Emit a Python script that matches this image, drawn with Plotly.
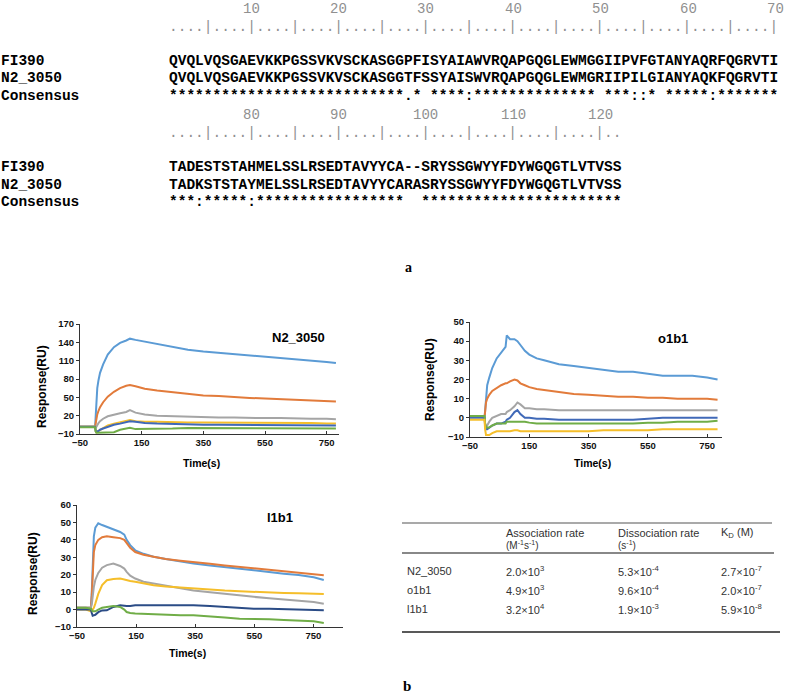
import plotly.graph_objects as go

W, H = 787, 696

def px(x):
    return x / W

def py(y):
    return 1 - y / H

# ---------------- Alignment data ----------------
seq_names = ["FI390", "N2_3050", "Consensus"]
block1_seqs = [
    "QVQLVQSGAEVKKPGSSVKVSCKASGGPFISYAIAWVRQAPGQGLEWMGGIIPVFGTANYAQRFQGRVTI",
    "QVQLVQSGAEVKKPGSSVKVSCKASGGTFSSYAISWVRQAPGQGLEWMGRIIPILGIANYAQKFQGRVTI",
    "***************************.* ****:************** ***::* *****:*******",
]
block2_seqs = [
    "TADESTSTAHMELSSLRSEDTAVYYCA--SRYSSGWYYFDYWGQGTLVTVSS",
    "TADKSTSTAYMELSSLRSEDTAVYYCARASRYSSGWYYFDYWGQGTLVTVSS",
    "***:*****:*****************  ***********************",
]
ruler1 = "....|" * 14
ruler2 = "....|" * 10 + ".."
numbers1 = [10, 20, 30, 40, 50, 60, 70]
numbers2 = [80, 90, 100, 110, 120]

# ---------------- Sensorgram data ----------------
series_names = ["c1", "c2", "c3", "c4", "c5", "c6"]

t_n2 = [-50, -20, -1, 1, 3, 6, 10, 15, 25, 40, 60, 80, 100, 112, 130, 160, 200,
        250, 300, 350, 400, 450, 500, 550, 600, 650, 700, 750, 780]
n2_blue = [2, 2, 2, 20, 45, 65, 78, 90, 104, 120, 132, 139, 143, 146, 144, 141, 137,
           132, 128, 125, 123, 121, 119, 117, 115, 113, 110, 108, 106]
n2_orange = [2, 2, 2, 8, 15, 22, 28, 34, 42, 51, 59, 65, 69, 70, 68, 64, 61,
             58, 55, 53, 52, 50, 49, 48, 47, 46, 45, 44, 43]
n2_gray = [2, 2, 2, 0, 2, 5, 8, 11, 15, 19, 22, 24, 26, 29, 25, 22, 20,
           19, 18, 18, 17, 17, 16, 16, 16, 15, 15, 15, 14]
n2_yellow = [2, 2, 2, -6, -7, -6, -5, -3, 0, 4, 7, 9, 11, 13, 11, 10, 10,
             9, 9, 9, 9, 8, 8, 8, 8, 8, 8, 7, 7]
n2_dblue = [2, 2, 2, -5, -6, -6, -5, -3, -1, 2, 5, 7, 9, 11, 10, 8, 7,
            6, 6, 5, 5, 5, 5, 5, 5, 4, 4, 4, 4]
n2_green = [1, 1, 1, -6, -8, -8, -8, -8, -8, -8, -7, -3, -1, 0, -2, -2, -1,
            -1, 0, 0, 0, 0, 0, 0, 0, 0, -1, -1, -1]

t_o1 = [-50, -20, -1, 1, 4, 8, 15, 25, 40, 55, 70, 74, 85, 100, 110, 120, 135, 150,
        175, 200, 250, 300, 350, 400, 450, 500, 550, 600, 650, 700, 750, 785]
o1_blue = [1, 1, 0, 5, 12, 17, 21, 26, 31, 34, 37, 43, 41, 41, 40, 38, 35, 33,
           31, 30, 28, 27, 26, 25, 24, 24, 23, 22, 22, 22, 21, 20]
o1_orange = [1, 1, 0, 4, 8, 10, 12, 14, 15.5, 17, 18, 18, 19, 20, 19.5, 18, 17, 16,
             15, 14.5, 13.5, 12.5, 12, 11.5, 11, 11, 10.5, 10.5, 10, 10, 10, 9.5]
o1_gray = [1, 1, 1, -3, -5, -4, -2, 0, 1, 2, 2, 3, 4, 6, 8, 7, 5, 5,
           4.5, 4.5, 4, 4, 4, 4, 4, 4, 4, 4, 4, 4, 4, 4]
o1_yellow = [-1, -1, -1, -6, -9, -9, -9, -8, -7, -7, -7, -7, -7, -6.5, -6.5, -7, -7, -7,
             -7, -7, -7, -7, -7, -6.5, -6.5, -6.5, -6.5, -6, -6, -6, -6, -6]
o1_dblue = [0, 0, 0, -4, -6, -6, -5, -4, -3, -3, -2, -1, 0, 3, 4, 2, 0, 0,
            -0.5, -0.5, -1, -1, -1, -1, -1, -1, -0.5, 0, 0, 0, 0, 0]
o1_green = [1, 1, 1, -3, -5, -5, -5, -4, -3, -3, -3, -2, -2, -2, -2, -2, -2, -2.5,
            -3, -3, -3, -3, -3, -3, -3, -3, -2.5, -2.5, -2, -2, -2, -1.5]

t_l1 = [-50, -20, -3, 0, 3, 7, 12, 22, 35, 51, 73, 96, 110, 118, 130, 147, 175, 209,
        250, 300, 344, 400, 450, 500, 548, 600, 650, 700, 751, 785]
l1_blue = [1, 1, 1, 10, 30, 42, 47, 49.5, 48.5, 47.5, 46, 44.5, 43, 40, 37, 34, 32, 30.3,
           29, 27.5, 26.4, 25.3, 24.3, 23.3, 22.6, 21.6, 20.6, 19.8, 18.5, 17]
l1_orange = [1, 1, 1, 8, 22, 33, 37, 40, 41.5, 42, 41.5, 41, 40, 38, 35.5, 33, 31.5, 30.3,
             29, 28, 27.4, 26.3, 25.3, 24.5, 23.6, 22.6, 21.8, 21.2, 20.5, 19.7]
l1_gray = [1, 1, 1, 3, 8, 13, 17, 21, 24, 25.5, 26.4, 25, 23.5, 21.6, 19.5, 17.8, 16, 15,
           13.8, 12.2, 11, 10, 9, 8.2, 7.3, 6.5, 5.8, 5, 4.4, 3.4]
l1_yellow = [0, 0, -1, -1, 0, 1, 3.4, 9, 14, 16.8, 17.5, 17.8, 17.3, 16.8, 16.4, 15.9, 15, 14,
             13.3, 12.6, 12, 11.4, 10.9, 10.5, 10.1, 9.8, 9.5, 9.3, 9.2, 9]
l1_dblue = [0, 0, 0, -2, -3.5, -3.3, -3, -1.5, -0.5, -0.4, 1.5, 2.5, 2, 2, 2, 2.5, 2.5, 2.5,
            2.5, 2.5, 2.5, 2, 1.5, 1, 0.5, 0.5, 0.2, 0, -0.3, -0.4]
l1_green = [1, 1, 0.5, 0, -1, -1, -1, 0, 1, 1.5, 2, 1.5, 0, -1.4, -2, -2.3, -2.5, -2.8,
            -3, -3.2, -3.3, -3.8, -4.5, -5.2, -5.2, -5.5, -6, -6.5, -6.7, -7.7]

panel_titles = ["N2_3050", "o1b1", "l1b1"]

# ---------------- Table data ----------------
table_rows = ["N2_3050", "o1b1", "l1b1"]
assoc = ["2.0×10<sup>3</sup>", "4.9×10<sup>3</sup>", "3.2×10<sup>4</sup>"]
dissoc = ["5.3×10<sup>-4</sup>", "9.6×10<sup>-4</sup>", "1.9×10<sup>-3</sup>"]
kd = ["2.7×10<sup>-7</sup>", "2.0×10<sup>-7</sup>", "5.9×10<sup>-8</sup>"]

# ---------------- Styles ----------------
C_BLUE = "#5B9BD5"
C_ORANGE = "#E27B3B"
C_GRAY = "#A5A5A5"
C_YELLOW = "#F5BE2A"
C_DBLUE = "#4069B8"
C_DBLUE3 = "#2B4C86"
C_GREEN = "#70AD47"

MONO = "Liberation Mono"
SANS = "Liberation Sans"
SERIF = "Liberation Serif"

fig = go.Figure()

panels = [
    (t_n2, [n2_blue, n2_orange, n2_gray, n2_yellow, n2_dblue, n2_green],
     [C_BLUE, C_ORANGE, C_GRAY, C_YELLOW, C_DBLUE, C_GREEN], "x", "y"),
    (t_o1, [o1_blue, o1_orange, o1_gray, o1_dblue, o1_green, o1_yellow],
     [C_BLUE, C_ORANGE, C_GRAY, C_DBLUE, C_GREEN, C_YELLOW], "x2", "y2"),
    (t_l1, [l1_blue, l1_orange, l1_gray, l1_yellow, l1_dblue, l1_green],
     [C_BLUE, C_ORANGE, C_GRAY, C_YELLOW, C_DBLUE3, C_GREEN], "x3", "y3"),
]
for t, ys, cols, xa, ya in panels:
    for name, yv, c in zip(series_names, ys, cols):
        fig.add_trace(go.Scatter(x=t, y=yv, mode="lines", name=name,
                                 line=dict(color=c, width=2),
                                 xaxis=xa, yaxis=ya, showlegend=False,
                                 hoverinfo="skip"))

tickfont = dict(family=SANS, size=9.5, color="#111", weight="bold")
common_x = dict(showline=True, linecolor="#333", linewidth=1, showgrid=False,
                zeroline=False, ticks="inside", ticklen=3, tickcolor="#333",
                tick0=-50, dtick=200, tickfont=tickfont, fixedrange=True,
                automargin=False)
common_y = dict(showline=True, linecolor="#333", linewidth=1, showgrid=False,
                zeroline=False, ticks="outside", ticklen=3, tickcolor="#333",
                tickfont=tickfont, fixedrange=True, automargin=False)

fig.update_layout(
    template=None,
    width=W, height=H, margin=dict(l=0, r=0, t=0, b=0, pad=0, autoexpand=False),
    paper_bgcolor="white", plot_bgcolor="white",
    xaxis=dict(domain=[px(80), px(339)], range=[-50, 790], anchor="y", **common_x),
    yaxis=dict(domain=[py(434), py(324)], range=[-10, 170], tick0=-10, dtick=30,
               anchor="x", **common_y),
    xaxis2=dict(domain=[px(470), px(722)], range=[-50, 800], anchor="y2", **common_x),
    yaxis2=dict(domain=[py(437), py(322)], range=[-10, 50], tick0=-10, dtick=10,
                anchor="x2", **common_y),
    xaxis3=dict(domain=[px(77), px(343)], range=[-50, 850], anchor="y3", **common_x),
    yaxis3=dict(domain=[py(627), py(505)], range=[-10, 60], tick0=-10, dtick=10,
                anchor="x3", **common_y),
)

ann = []

def add_text(x, y, text, size, family, color="#000", weight="normal",
             xanchor="left", angle=0):
    ann.append(dict(x=px(x), y=py(y), xref="paper", yref="paper", text=text,
                    showarrow=False, xanchor=xanchor, yanchor="middle",
                    textangle=angle, borderpad=0,
                    font=dict(size=size, family=family, color=color, weight=weight)))

# ---- alignment ----
CW = 8.74
X0 = 168
MS = 14.5
def nb(s):
    return s.replace(" ", "\u00a0")

blocks = [
    (block1_seqs, ruler1, numbers1, 0, [9, 27, 61, 78, 96]),
    (block2_seqs, ruler2, numbers2, 70, [115, 133, 167, 185, 202]),
]
for seqs, ruler, nums, offset, ys in blocks:
    for n in nums:
        col = n - offset
        add_text(X0 + (col - 0.5) * CW, ys[0], str(n), 14, MONO, color="#909090",
                 xanchor="center")
    add_text(X0, ys[1], ruler, MS, MONO, color="#909090")
    for i, (name, s) in enumerate(zip(seq_names, seqs)):
        add_text(0, ys[2 + i], name, MS, MONO, color="#000", weight="bold")
        add_text(X0, ys[2 + i], nb(s), MS, MONO, color="#000", weight="bold")

add_text(408, 268, "a", 14, SERIF, weight="bold", xanchor="center")
add_text(407, 686, "b", 15, SERIF, weight="bold", xanchor="center")

# ---- panel labels ----
add_text(298, 337, panel_titles[0], 13, SANS, weight="bold", xanchor="center")
add_text(673, 338, panel_titles[1], 13, SANS, weight="bold", xanchor="center")
add_text(280, 517, panel_titles[2], 13, SANS, weight="bold", xanchor="center")

for (x, y) in [(42, 387), (430, 380), (33, 574)]:
    add_text(x, y, "Response(RU)", 12, SANS, weight="bold", xanchor="center", angle=-90)
for (x, y) in [(202, 463), (592, 463), (187, 653)]:
    add_text(x, y, "Time(s)", 10.5, SANS, weight="bold", xanchor="center")

# ---- table ----
TF = 11
TC = "#333"
add_text(505, 533, "Association rate", TF, SANS, color=TC)
add_text(505, 545, "(M<sup>-1</sup>s<sup>-1</sup>)", TF - 1, SANS, color=TC)
add_text(617, 533, "Dissociation rate", TF, SANS, color=TC)
add_text(617, 545, "(s<sup>-1</sup>)", TF - 1, SANS, color=TC)
add_text(720, 533, "K<sub>D</sub> (M)", TF, SANS, color=TC)
for i, (r, a, d, k) in enumerate(zip(table_rows, assoc, dissoc, kd)):
    yy = 571 + 19 * i
    add_text(406, yy, r, TF, SANS, color=TC)
    add_text(505, yy, a, TF, SANS, color=TC)
    add_text(617, yy, d, TF, SANS, color=TC)
    add_text(720, yy, k, TF, SANS, color=TC)

shapes = []
for (y, x1, w, c) in [(523, 772, 1.2, "#555"), (553, 774, 2, "#888"), (632, 780, 1.5, "#222")]:
    shapes.append(dict(type="line", xref="paper", yref="paper",
                       x0=px(402), x1=px(x1), y0=py(y), y1=py(y),
                       line=dict(color=c, width=w)))

fig.update_layout(annotations=ann, shapes=shapes)
# remove the browser's default 8px page margin so the figure sits at the window origin
fig.write_html("out.html",
               config={"displayModeBar": False, "staticPlot": True},
               post_script="document.body.style.margin='0';document.body.style.padding='0';")
